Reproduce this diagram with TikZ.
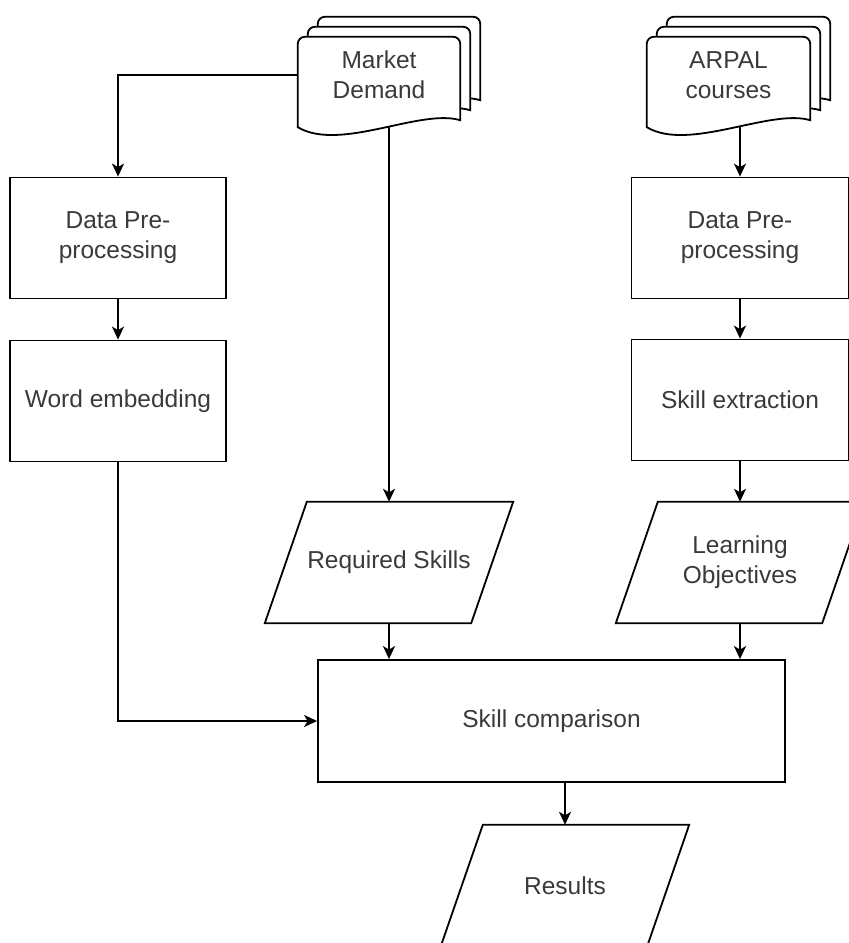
\documentclass[tikz,border=0pt]{standalone}
\usepackage{fontspec}
\setmainfont{Liberation Sans}
\usepackage{tikz}
\usetikzlibrary{arrows.meta,positioning,calc,backgrounds}
\definecolor{txtgray}{HTML}{3A3A3A}
\tikzset{
  stepbox/.style={rectangle,draw=black,line width=1.8pt,fill=white,align=center,
    text=txtgray,font=\fontsize{24.5}{30}\selectfont},
  procbox/.style={stepbox,minimum width=216pt,minimum height=121pt},
  iobox/.style={rectangle,align=center,text=txtgray,minimum width=206pt,
    minimum height=121pt,font=\fontsize{24.5}{30}\selectfont},
  docnode/.style={rectangle,align=center,text=txtgray,minimum height=76pt,
    font=\fontsize{24.5}{30}\selectfont},
  docline/.style={draw=black,line width=1.8pt,fill=white},
  flowarr/.style={-{Stealth[length=13pt,width=12pt,inset=3.5pt]},line width=1.8pt,black},
}
% stacked document shape round a named node
\newcommand{\stackdoc}[1]{%
  \foreach \k in {20,10,0}{%
    \path[docline] ([shift={(\k,-\k+14)}]#1.south west)
      [rounded corners=7pt] -- ([shift={(\k,-\k)}]#1.north west)
      -- ([shift={(\k,-\k)}]#1.north east) [sharp corners]
      -- ([shift={(\k,-\k+7)}]#1.south east)
      .. controls ([shift={(\k-40,-\k-5)}]#1.south east)
      and ([shift={(\k+42,-\k+39)}]#1.south west)
      .. ([shift={(\k,-\k+14)}]#1.south west) -- cycle;
  }%
}
% slanted input/output box round a named node
\newcommand{\slantbox}[1]{%
  \path[docline] ([xshift=21pt]#1.north west) -- ([xshift=21pt]#1.north east)
    -- ([xshift=-21pt]#1.south east) -- ([xshift=-21pt]#1.south west) -- cycle;
}

\begin{document}
\begin{tikzpicture}[x=1pt,y=-1pt]
  \useasboundingbox (0,0) rectangle (849,943);
  \clip (0,0) rectangle (849,943);

  % sources
  \node[docnode,minimum width=162pt] (mdem) at (379,75) {Market\\Demand};
  \node[docnode,minimum width=163pt] (arpal) at (728.5,75) {ARPAL\\courses};

  % left branch
  \node[procbox] (prepL) at (118,238) {Data Pre-\\processing};
  \node[procbox] (wemb) at (118,401) {Word embedding};

  % right branch
  \node[procbox,minimum width=217pt] (prepR) at (740,238) {Data Pre-\\processing};
  \node[procbox,minimum width=217pt] (sext) at (740,400) {Skill extraction};

  % skills
  \node[iobox] (reqsk) at (389,562.5) {Required Skills};
  \node[iobox] (lobj) at (740,562.5) {Learning\\Objectives};

  \node[stepbox,minimum width=467pt,minimum height=122pt] (scomp) at (551.5,721) {Skill comparison};
  \node[iobox] (res) at (565,885.5) {Results};

  \begin{scope}[on background layer]
    \draw[flowarr] (mdem.west) -| (prepL);
    \draw[flowarr] (reqsk |- mdem.south) -- (reqsk);
    \draw[flowarr] (prepR |- arpal.south) -- (prepR);
    \draw[flowarr] (prepL) -- (wemb);
    \draw[flowarr] (prepR) -- (sext);
    \draw[flowarr] (sext) -- (lobj);
    \draw[flowarr] (wemb) |- (scomp);
    \draw[flowarr] (reqsk) -- (reqsk |- scomp.north);
    \draw[flowarr] (lobj) -- (lobj |- scomp.north);
    \draw[flowarr] (res |- scomp.south) -- (res);
    \stackdoc{mdem}
    \stackdoc{arpal}
    \slantbox{reqsk}
    \slantbox{lobj}
    \slantbox{res}
  \end{scope}
\end{tikzpicture}
\end{document}
